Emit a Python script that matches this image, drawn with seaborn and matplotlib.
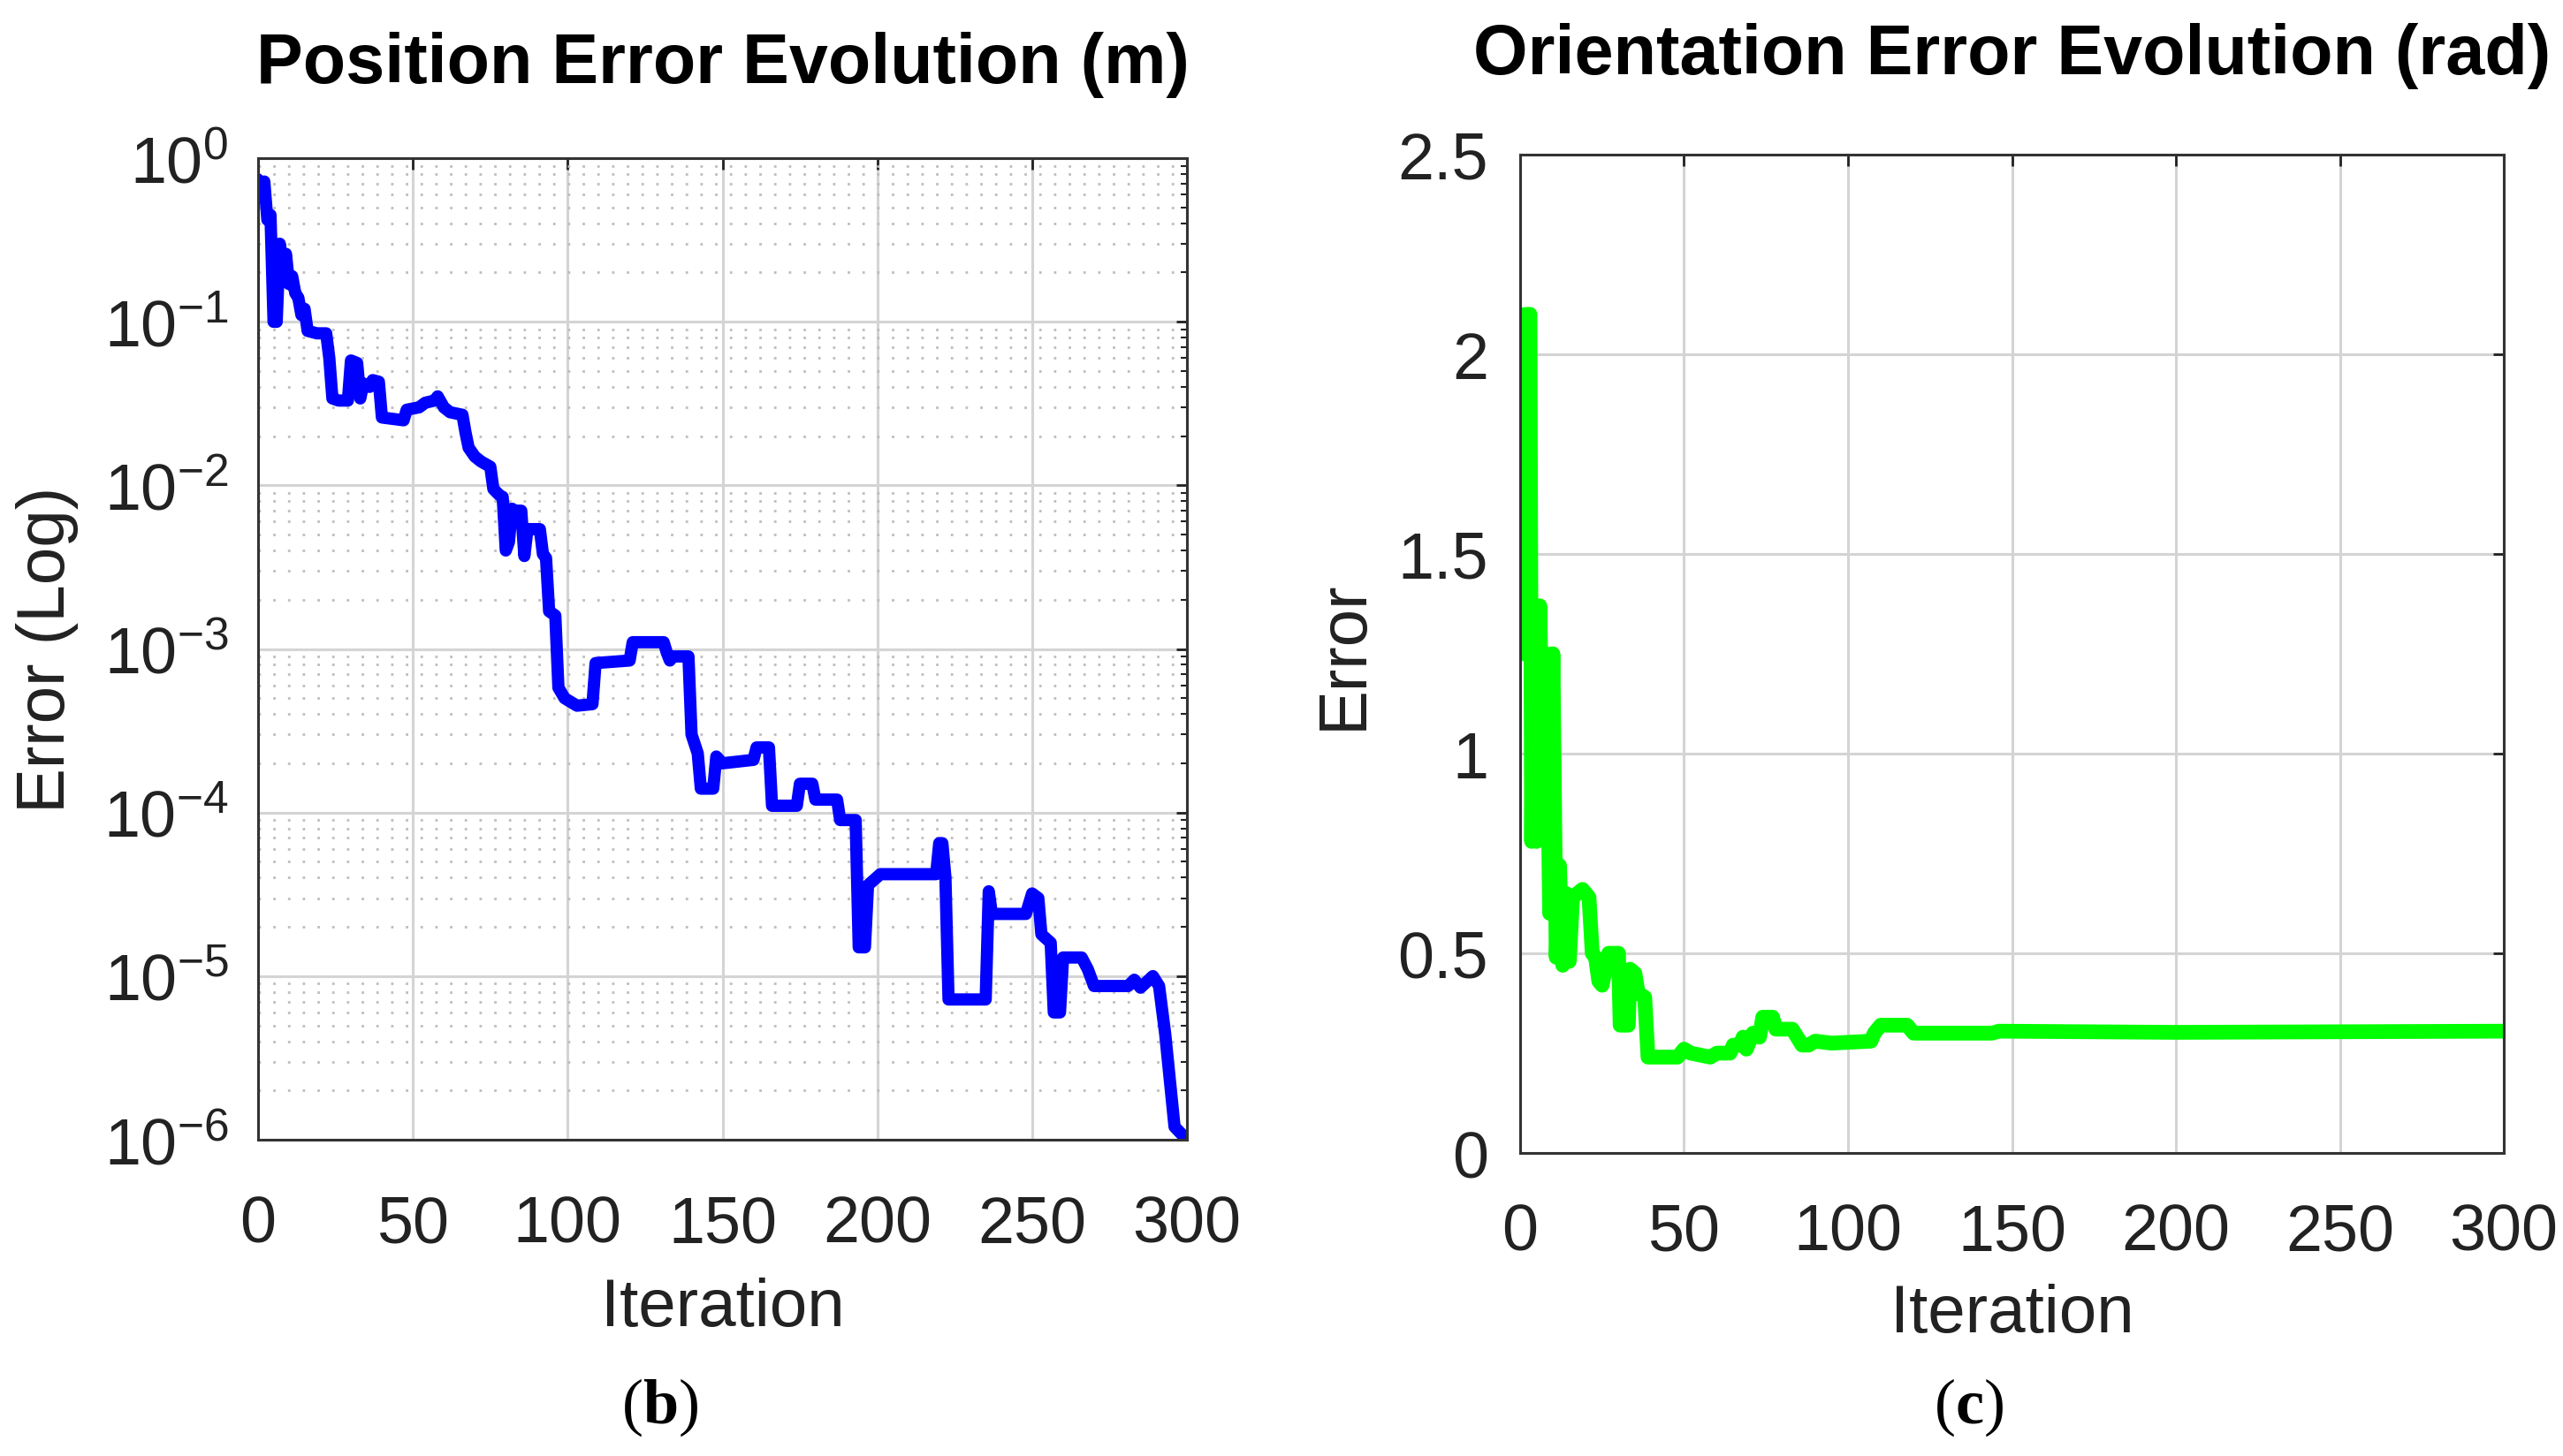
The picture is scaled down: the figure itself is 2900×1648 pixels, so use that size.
import numpy as np
import pandas as pd
import matplotlib
matplotlib.use("Agg")
import matplotlib.pyplot as plt
import matplotlib.ticker as mticker
import seaborn as sns

# position error (log scale)
pos_iter = [0, 1, 2, 3, 4, 5, 6, 7, 8, 9, 10, 11, 12, 13, 14, 15, 16, 19, 22, 23,
            24, 26, 29, 30, 32, 33, 34, 36, 37, 39, 40, 47, 48, 52, 54, 57, 58, 60, 62, 66,
            67, 68, 70, 72, 75, 76, 78, 79, 80, 81, 82, 83, 85, 86, 87, 91, 92, 93, 94, 96,
            97, 99, 103, 108, 109, 120, 121, 131, 132, 133, 134, 139, 140, 142, 143, 147, 148, 150, 160, 161,
            165, 166, 174, 175, 179, 180, 187, 188, 193, 194, 196, 197, 201, 219, 220, 221, 222, 223, 235, 236,
            237, 248, 250, 252, 253, 256, 257, 259, 260, 266, 268, 270, 281, 283, 285, 289, 291, 293, 296, 300]
pos_err = [0.74, 0.70, 0.72, 0.42, 0.45, 0.10, 0.10, 0.30, 0.22, 0.26, 0.17, 0.19, 0.15, 0.14, 0.11, 0.12, 0.088, 0.085, 0.085, 0.06,
           0.034, 0.033, 0.033, 0.058, 0.056, 0.034, 0.042, 0.040, 0.044, 0.043, 0.026, 0.025, 0.029, 0.030, 0.032, 0.033, 0.035, 0.030, 0.028, 0.027,
           0.021, 0.017, 0.015, 0.014, 0.013, 0.0095, 0.0087, 0.0085, 0.0040, 0.0045, 0.0072, 0.0070, 0.0070, 0.0037, 0.0054, 0.0054, 0.0038, 0.0036, 0.0017, 0.0016,
           0.00058, 0.0005, 0.00045, 0.00046, 0.00082, 0.00085, 0.0011, 0.0011, 0.00095, 0.00085, 0.0009, 0.0009, 0.0003, 0.00023, 0.00014, 0.00014, 0.00022, 0.0002, 0.00021, 0.00025,
           0.00025, 0.00011, 0.00011, 0.00015, 0.00015, 0.00012, 0.00012, 0.00009, 0.00009, 1.5e-5, 1.5e-5, 3.6e-5, 4.2e-5, 4.2e-5, 6.5e-5, 6.5e-5, 4e-5, 7.2e-6, 7.2e-6, 3.3e-5,
           2.4e-5, 2.4e-5, 3.2e-5, 3.0e-5, 1.8e-5, 1.6e-5, 6e-6, 6e-6, 1.3e-5, 1.3e-5, 1.1e-5, 8.7e-6, 8.7e-6, 9.5e-6, 8.5e-6, 1.0e-5, 8.7e-6, 4.4e-6, 1.2e-6, 1.0e-6]

# orientation error (rad)
ori_iter = [0, 1, 2, 3, 3.5, 4, 5, 6, 7, 8, 9, 10, 11, 12, 13, 14, 15, 16, 19, 21,
            22, 23, 24, 25, 26, 27, 30, 30.5, 33, 33.5, 35, 36, 38, 39, 48, 50, 52, 58, 60, 64,
            65, 67, 68, 69, 71, 73, 74, 77, 78, 83, 86, 88, 90, 95, 107, 108, 110, 118, 120, 144,
            146, 200, 300]
ori_err = [2.10, 1.25, 2.10, 2.10, 0.78, 1.37, 0.78, 1.37, 0.90, 1.25, 0.60, 1.25, 0.49, 0.72, 0.47, 0.65, 0.48, 0.64, 0.66, 0.64,
           0.50, 0.49, 0.43, 0.42, 0.46, 0.50, 0.50, 0.32, 0.32, 0.46, 0.45, 0.40, 0.39, 0.24, 0.24, 0.26, 0.25, 0.24, 0.25, 0.25,
           0.27, 0.27, 0.29, 0.26, 0.30, 0.29, 0.34, 0.34, 0.31, 0.31, 0.27, 0.27, 0.28, 0.275, 0.28, 0.30, 0.32, 0.32, 0.30, 0.30,
           0.305, 0.302, 0.305]

x_ticks = [0, 50, 100, 150, 200, 250, 300]
ori_yticks = [0, 0.5, 1, 1.5, 2, 2.5]

sns.set_theme(style="white")
plt.rcParams.update({
    "font.family": ["Liberation Sans", "DejaVu Sans"],
    "mathtext.fontset": "custom",
    "mathtext.rm": "Liberation Sans",
    "mathtext.bf": "Liberation Serif:bold",
    "axes.edgecolor": "#333333",
    "axes.linewidth": 2.2,
    "text.color": "black",
    "axes.labelcolor": "#222222",
    "xtick.color": "#222222",
    "ytick.color": "#222222",
})

TICK_FS = 53
LABEL_FS = 55
TITLE_FS = 57

fig, axes = plt.subplots(1, 2, figsize=(29, 16.49), dpi=100)
fig.patch.set_facecolor("white")
axes[0].set_position([0.1007, 0.2171, 0.3624, 0.6737])
axes[1].set_position([0.5931, 0.2080, 0.3838, 0.6853])

pos_df = pd.DataFrame({"iteration": pos_iter, "error": pos_err})
ori_df = pd.DataFrame({"iteration": ori_iter, "error": ori_err})

# left: position error on log scale
ax = axes[0]
sns.lineplot(data=pos_df, x="iteration", y="error", ax=ax, color="#0000ff",
             linewidth=10, estimator=None, sort=False)
ax.set_yscale("log")
ax.set_ylim(1e-6, 1)
ax.set_xlim(0, 300)
ax.yaxis.set_major_locator(mticker.LogLocator(base=10, numticks=10))
ax.yaxis.set_minor_locator(mticker.LogLocator(base=10, subs=np.arange(2, 10), numticks=20))
ax.yaxis.set_minor_formatter(mticker.NullFormatter())
ax.grid(True, which="major", color="#d4d4d4", linewidth=2.2)
ax.grid(True, which="minor", axis="y", color="#bdbdbd", linestyle=(0, (1, 5)), linewidth=2)
ax.set_title("Position Error Evolution (m)", fontsize=TITLE_FS, fontweight="bold", pad=62)
ax.set_ylabel("Error (Log)", fontsize=LABEL_FS, labelpad=20)
ax.set_xlabel("Iteration", fontsize=LABEL_FS, labelpad=18)
ax.tick_params(axis="x", pad=44)
ax.tick_params(axis="y", pad=24)

# right: orientation error, linear scale
ax = axes[1]
sns.lineplot(data=ori_df, x="iteration", y="error", ax=ax, color="#00ff00",
             linewidth=12, estimator=None, sort=False)
ax.set_ylim(0, 2.5)
ax.set_xlim(0, 300)
ax.set_yticks(ori_yticks)
ax.set_yticklabels([f"{v:g}" for v in ori_yticks])
ax.grid(True, which="major", color="#d4d4d4", linewidth=2.2)
ax.set_title("Orientation Error Evolution (rad)", fontsize=TITLE_FS, fontweight="bold", pad=66)
ax.set_ylabel("Error", fontsize=LABEL_FS, labelpad=18)
ax.set_xlabel("Iteration", fontsize=LABEL_FS, labelpad=16)
ax.tick_params(axis="x", pad=40)
ax.tick_params(axis="y", pad=26)

for ax in axes:
    ax.set_xticks(x_ticks)
    ax.set_xticklabels([str(v) for v in x_ticks])
    ax.set_axisbelow(True)
    ax.tick_params(which="major", direction="in", length=9, width=2,
                   top=True, right=True, labelsize=TICK_FS, colors="#222222")
    ax.tick_params(which="minor", direction="in", length=5, width=1.5,
                   top=False, right=True)
    for s in ax.spines.values():
        s.set_visible(True)
        s.set_color("#333333")
        s.set_linewidth(2.2)
    ax.set_facecolor("white")

fig.text(0.2576, 0.034, r"($\mathbf{b}$)", fontsize=52, ha="center", va="center",
         family=["Liberation Serif", "DejaVu Serif"])
fig.text(0.768, 0.034, r"($\mathbf{c}$)", fontsize=52, ha="center", va="center",
         family=["Liberation Serif", "DejaVu Serif"])

fig.savefig("out.png", dpi=100, facecolor="white")
